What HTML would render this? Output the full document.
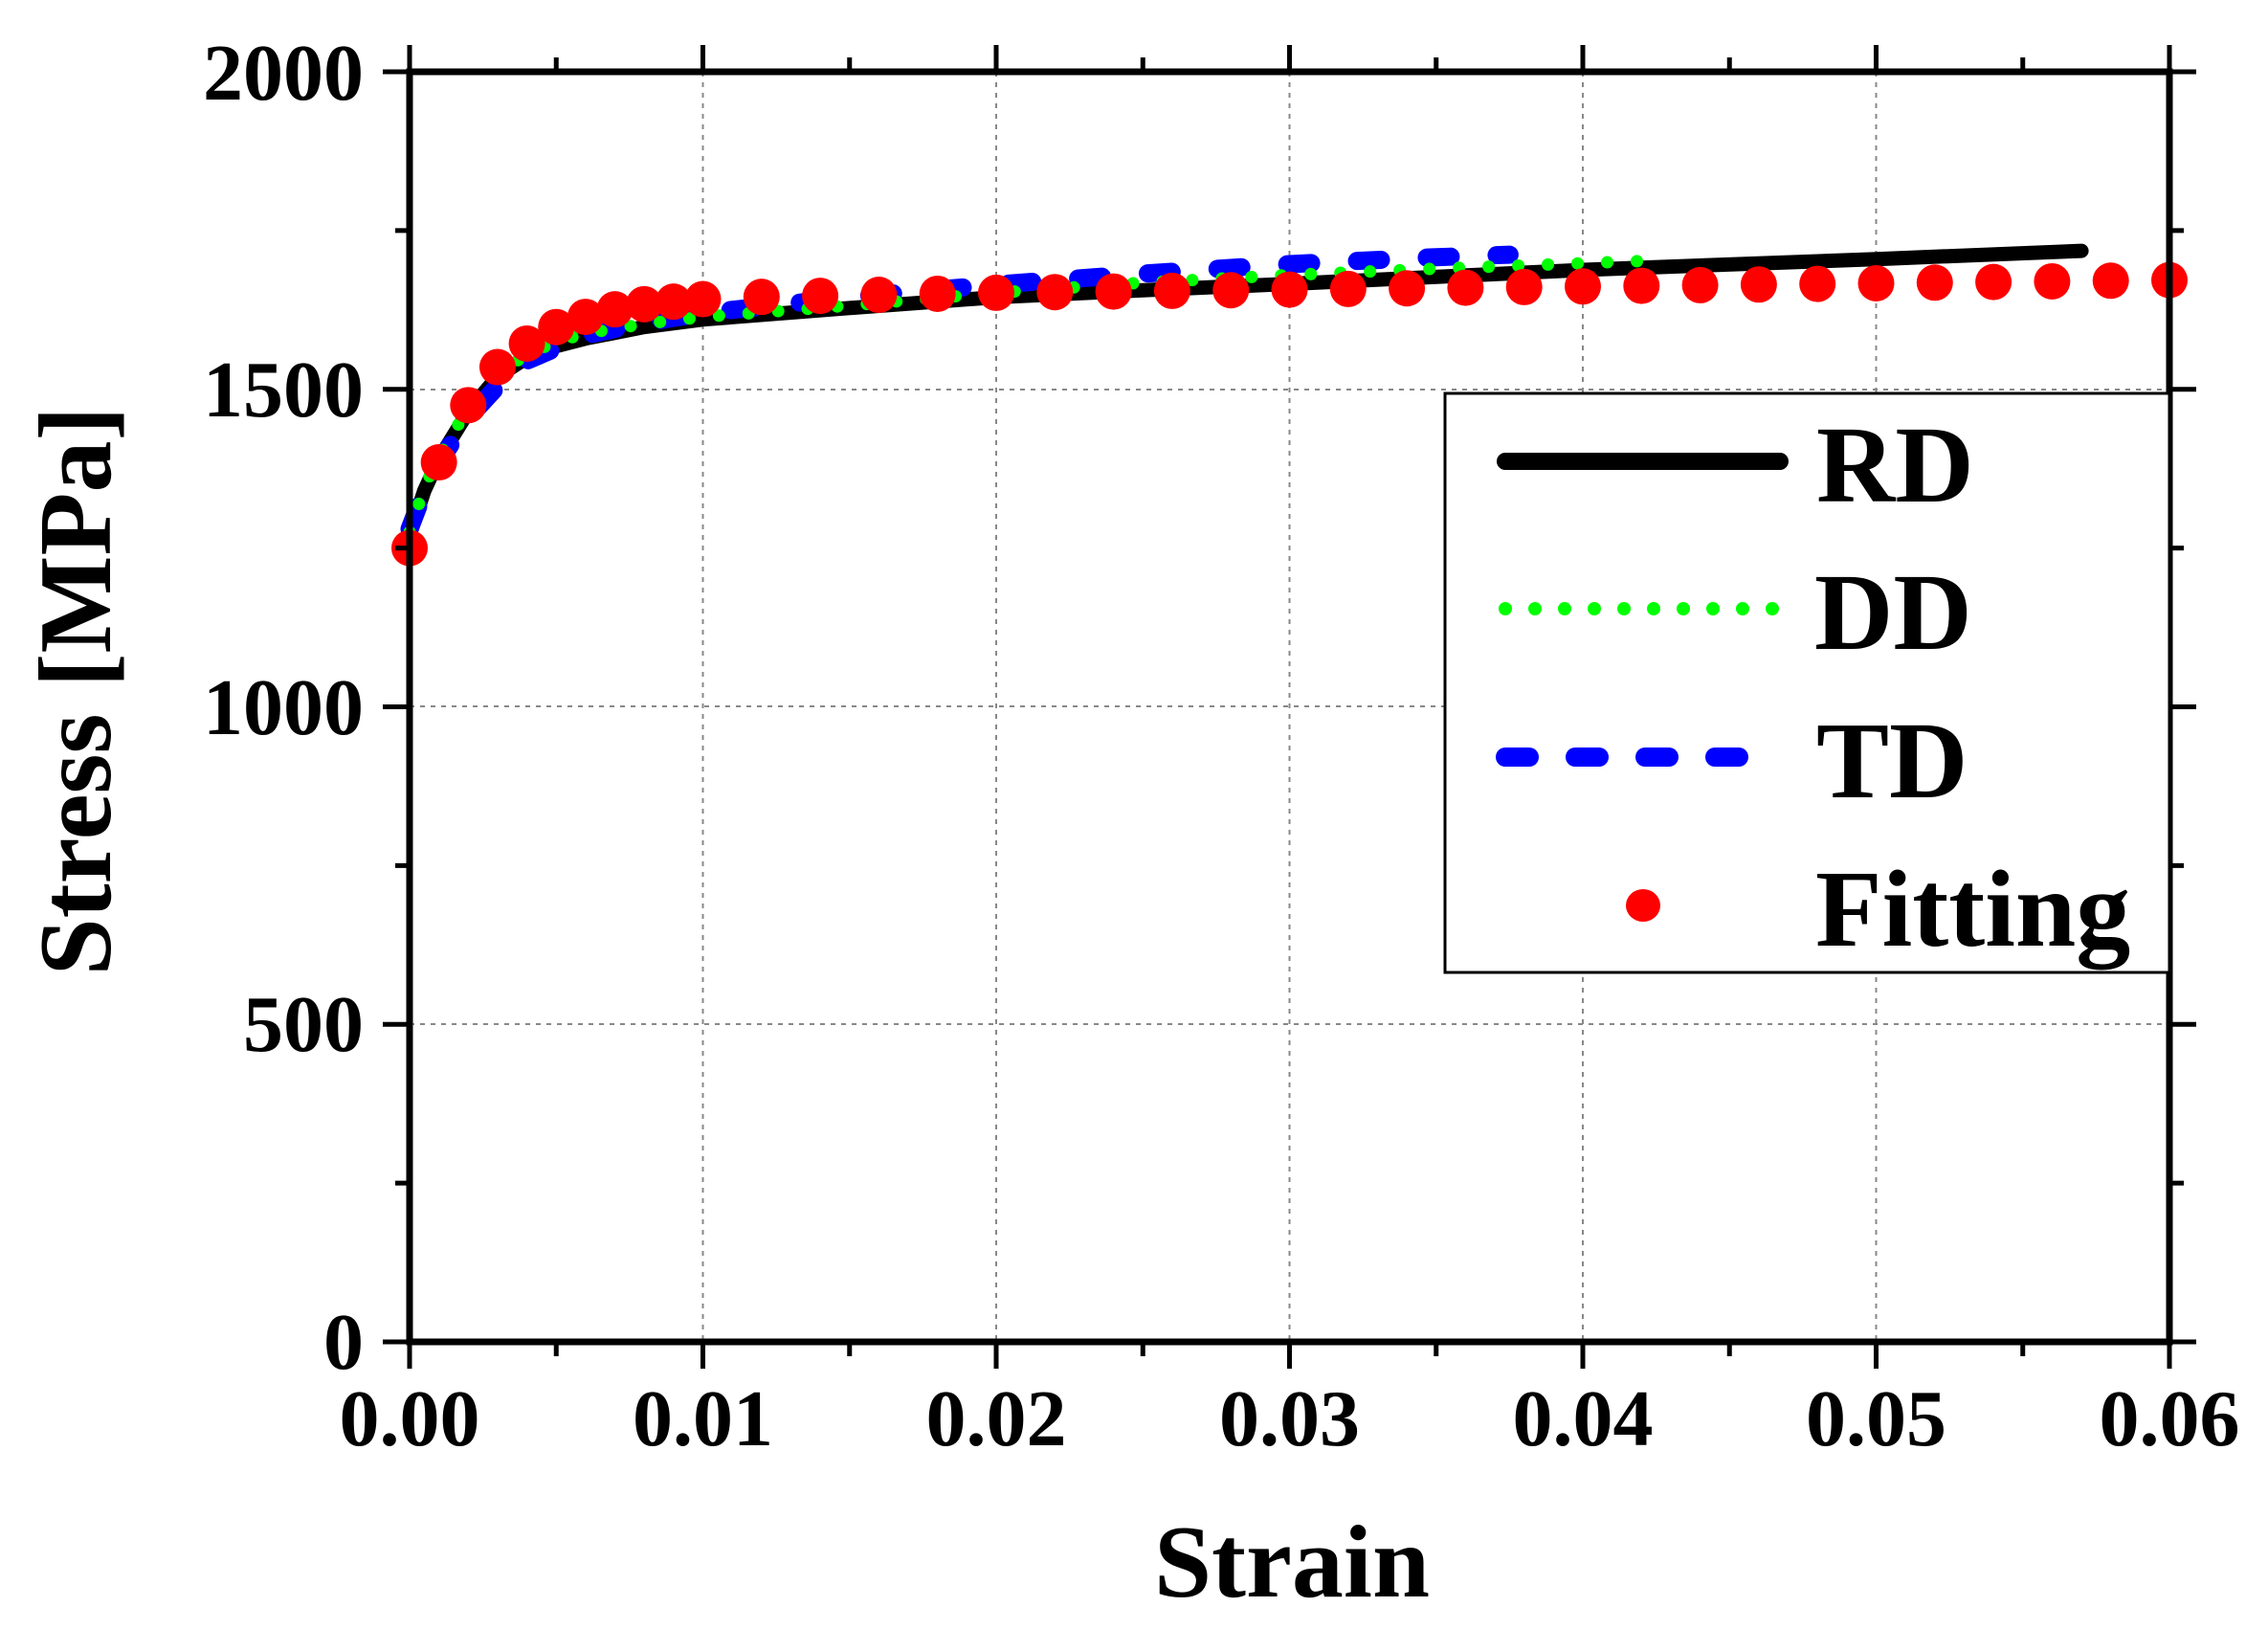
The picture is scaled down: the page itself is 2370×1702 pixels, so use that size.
<!DOCTYPE html>
<html><head><meta charset="utf-8"><style>
html,body{margin:0;padding:0;background:#fff}
svg{display:block}
text{font-family:"Liberation Serif","Times New Roman",serif;font-weight:bold;fill:#000}
</style></head><body>
<svg id="s" width="2370" height="1702" viewBox="0 0 2370 1702" xmlns="http://www.w3.org/2000/svg">
<g stroke="#888" stroke-width="2" stroke-dasharray="5 6" fill="none">
<line x1="734.5" y1="75" x2="734.5" y2="1402"/><line x1="1041" y1="75" x2="1041" y2="1402"/>
<line x1="1347.5" y1="75" x2="1347.5" y2="1402"/><line x1="1654" y1="75" x2="1654" y2="1402"/>
<line x1="1960.5" y1="75" x2="1960.5" y2="1402"/>
<line x1="428" y1="1070" x2="2267" y2="1070"/><line x1="428" y1="738" x2="2267" y2="738"/><line x1="428" y1="407" x2="2267" y2="407"/>
</g>
<g id="data"></g>
<g stroke="#000" fill="none">
<rect x="428" y="75" width="1839" height="1327" stroke-width="7"/>
<g id="ticks" stroke-width="5"></g>
</g>
<g font-size="84" text-anchor="end">
<text x="380" y="104">2000</text><text x="380" y="435">1500</text><text x="380" y="767">1000</text>
<text x="380" y="1098">500</text><text x="380" y="1430">0</text>
</g>
<g font-size="84" text-anchor="middle">
<text x="428" y="1510">0.00</text><text x="734.5" y="1510">0.01</text><text x="1041" y="1510">0.02</text>
<text x="1347.5" y="1510">0.03</text><text x="1654" y="1510">0.04</text><text x="1960.5" y="1510">0.05</text><text x="2267" y="1510">0.06</text>
</g>
<text x="1350" y="1668" font-size="108" text-anchor="middle">Strain</text>
<text transform="translate(115,722) rotate(-90)" font-size="108" text-anchor="middle">Stress [MPa]</text>
<rect x="1510" y="411" width="757" height="605" fill="#fff" stroke="#000" stroke-width="3"/>
<line x1="1573" y1="482" x2="1860" y2="482" stroke="#000" stroke-width="18" stroke-linecap="round"/>
<line x1="1573" y1="636" x2="1862" y2="636" stroke="#0f0" stroke-width="14" stroke-linecap="round" stroke-dasharray="0 31"/>
<line x1="1573" y1="791" x2="1822" y2="791" stroke="#00f" stroke-width="20" stroke-linecap="round" stroke-dasharray="25 48"/>
<ellipse cx="1717" cy="946" rx="18" ry="17" fill="#f00"/>
<g font-size="114">
<text x="1898" y="524">RD</text><text x="1896" y="678">DD</text><text x="1898" y="833">TD</text><text x="1897" y="988">Fitting</text>
</g>
</svg>
<script>
var X=function(e){return 428+e*30650},Y=function(s){return 1402-s*0.6635};
var NS="http://www.w3.org/2000/svg";
function el(t,a,p){var e=document.createElementNS(NS,t);for(var k in a)e.setAttribute(k,a[k]);p.appendChild(e);return e}
function pts(a){return a.map(function(p){return X(p[0]).toFixed(1)+","+Y(p[1]).toFixed(1)}).join(" ")}
var d=document.getElementById("data");
var rd=[[0,1270],[0.0005,1340],[0.001,1390],[0.002,1465],[0.003,1520],[0.004,1550],[0.005,1568],[0.006,1580],[0.008,1598],[0.01,1610],[0.015,1628],[0.02,1645],[0.025,1656],[0.03,1666],[0.04,1688],[0.05,1705],[0.057,1718]];
var dd=[[0,1275],[0.0005,1345],[0.001,1395],[0.002,1470],[0.003,1525],[0.004,1555],[0.005,1575],[0.006,1588],[0.008,1603],[0.01,1614],[0.015,1632],[0.02,1652],[0.025,1668],[0.03,1680],[0.035,1690],[0.042,1702]];
var td=[[0,1280],[0.0005,1340],[0.001,1385],[0.002,1455],[0.003,1505],[0.004,1545],[0.005,1565],[0.006,1585],[0.008,1605],[0.01,1620],[0.015,1645],[0.02,1665],[0.025,1682],[0.03,1697],[0.035,1708],[0.0375,1712]];
el("polyline",{points:pts(rd),fill:"none",stroke:"#000","stroke-width":15,"stroke-linecap":"round","stroke-linejoin":"round"},d);
el("polyline",{points:pts(td),fill:"none",stroke:"#00f","stroke-width":19,"stroke-linecap":"round","stroke-dasharray":"25 48"},d);
el("polyline",{points:pts(dd),fill:"none",stroke:"#0f0","stroke-width":13,"stroke-linecap":"round","stroke-dasharray":"0 31"},d);
var fit=[[0,1250],[0.001,1385],[0.002,1475],[0.003,1535],[0.004,1572],[0.005,1598],[0.006,1614],[0.007,1626],[0.008,1634],[0.009,1638],[0.01,1642]];
for(var e=0.012;e<=0.0601;e+=0.002){fit.push([e,1648+(e-0.012)/0.048*24-(e<0.02?(0.02-e)*300:0)])}
fit.forEach(function(p){el("ellipse",{cx:X(p[0]),cy:Y(p[1]),rx:19,ry:19,fill:"#f00"},d)});
var t=document.getElementById("ticks");
for(var k=0;k<=12;k++){var x=428+k*153.25,L=(k%2?15:28);
el("line",{x1:x,y1:1402,x2:x,y2:1402+L},t);el("line",{x1:x,y1:75,x2:x,y2:75-L},t);}
for(var k=0;k<=8;k++){var y=1402-k*165.875,L=(k%2?15:28);
el("line",{x1:428,y1:y,x2:428-L,y2:y},t);el("line",{x1:2267,y1:y,x2:2267+L,y2:y},t);}
</script>
</body></html>
